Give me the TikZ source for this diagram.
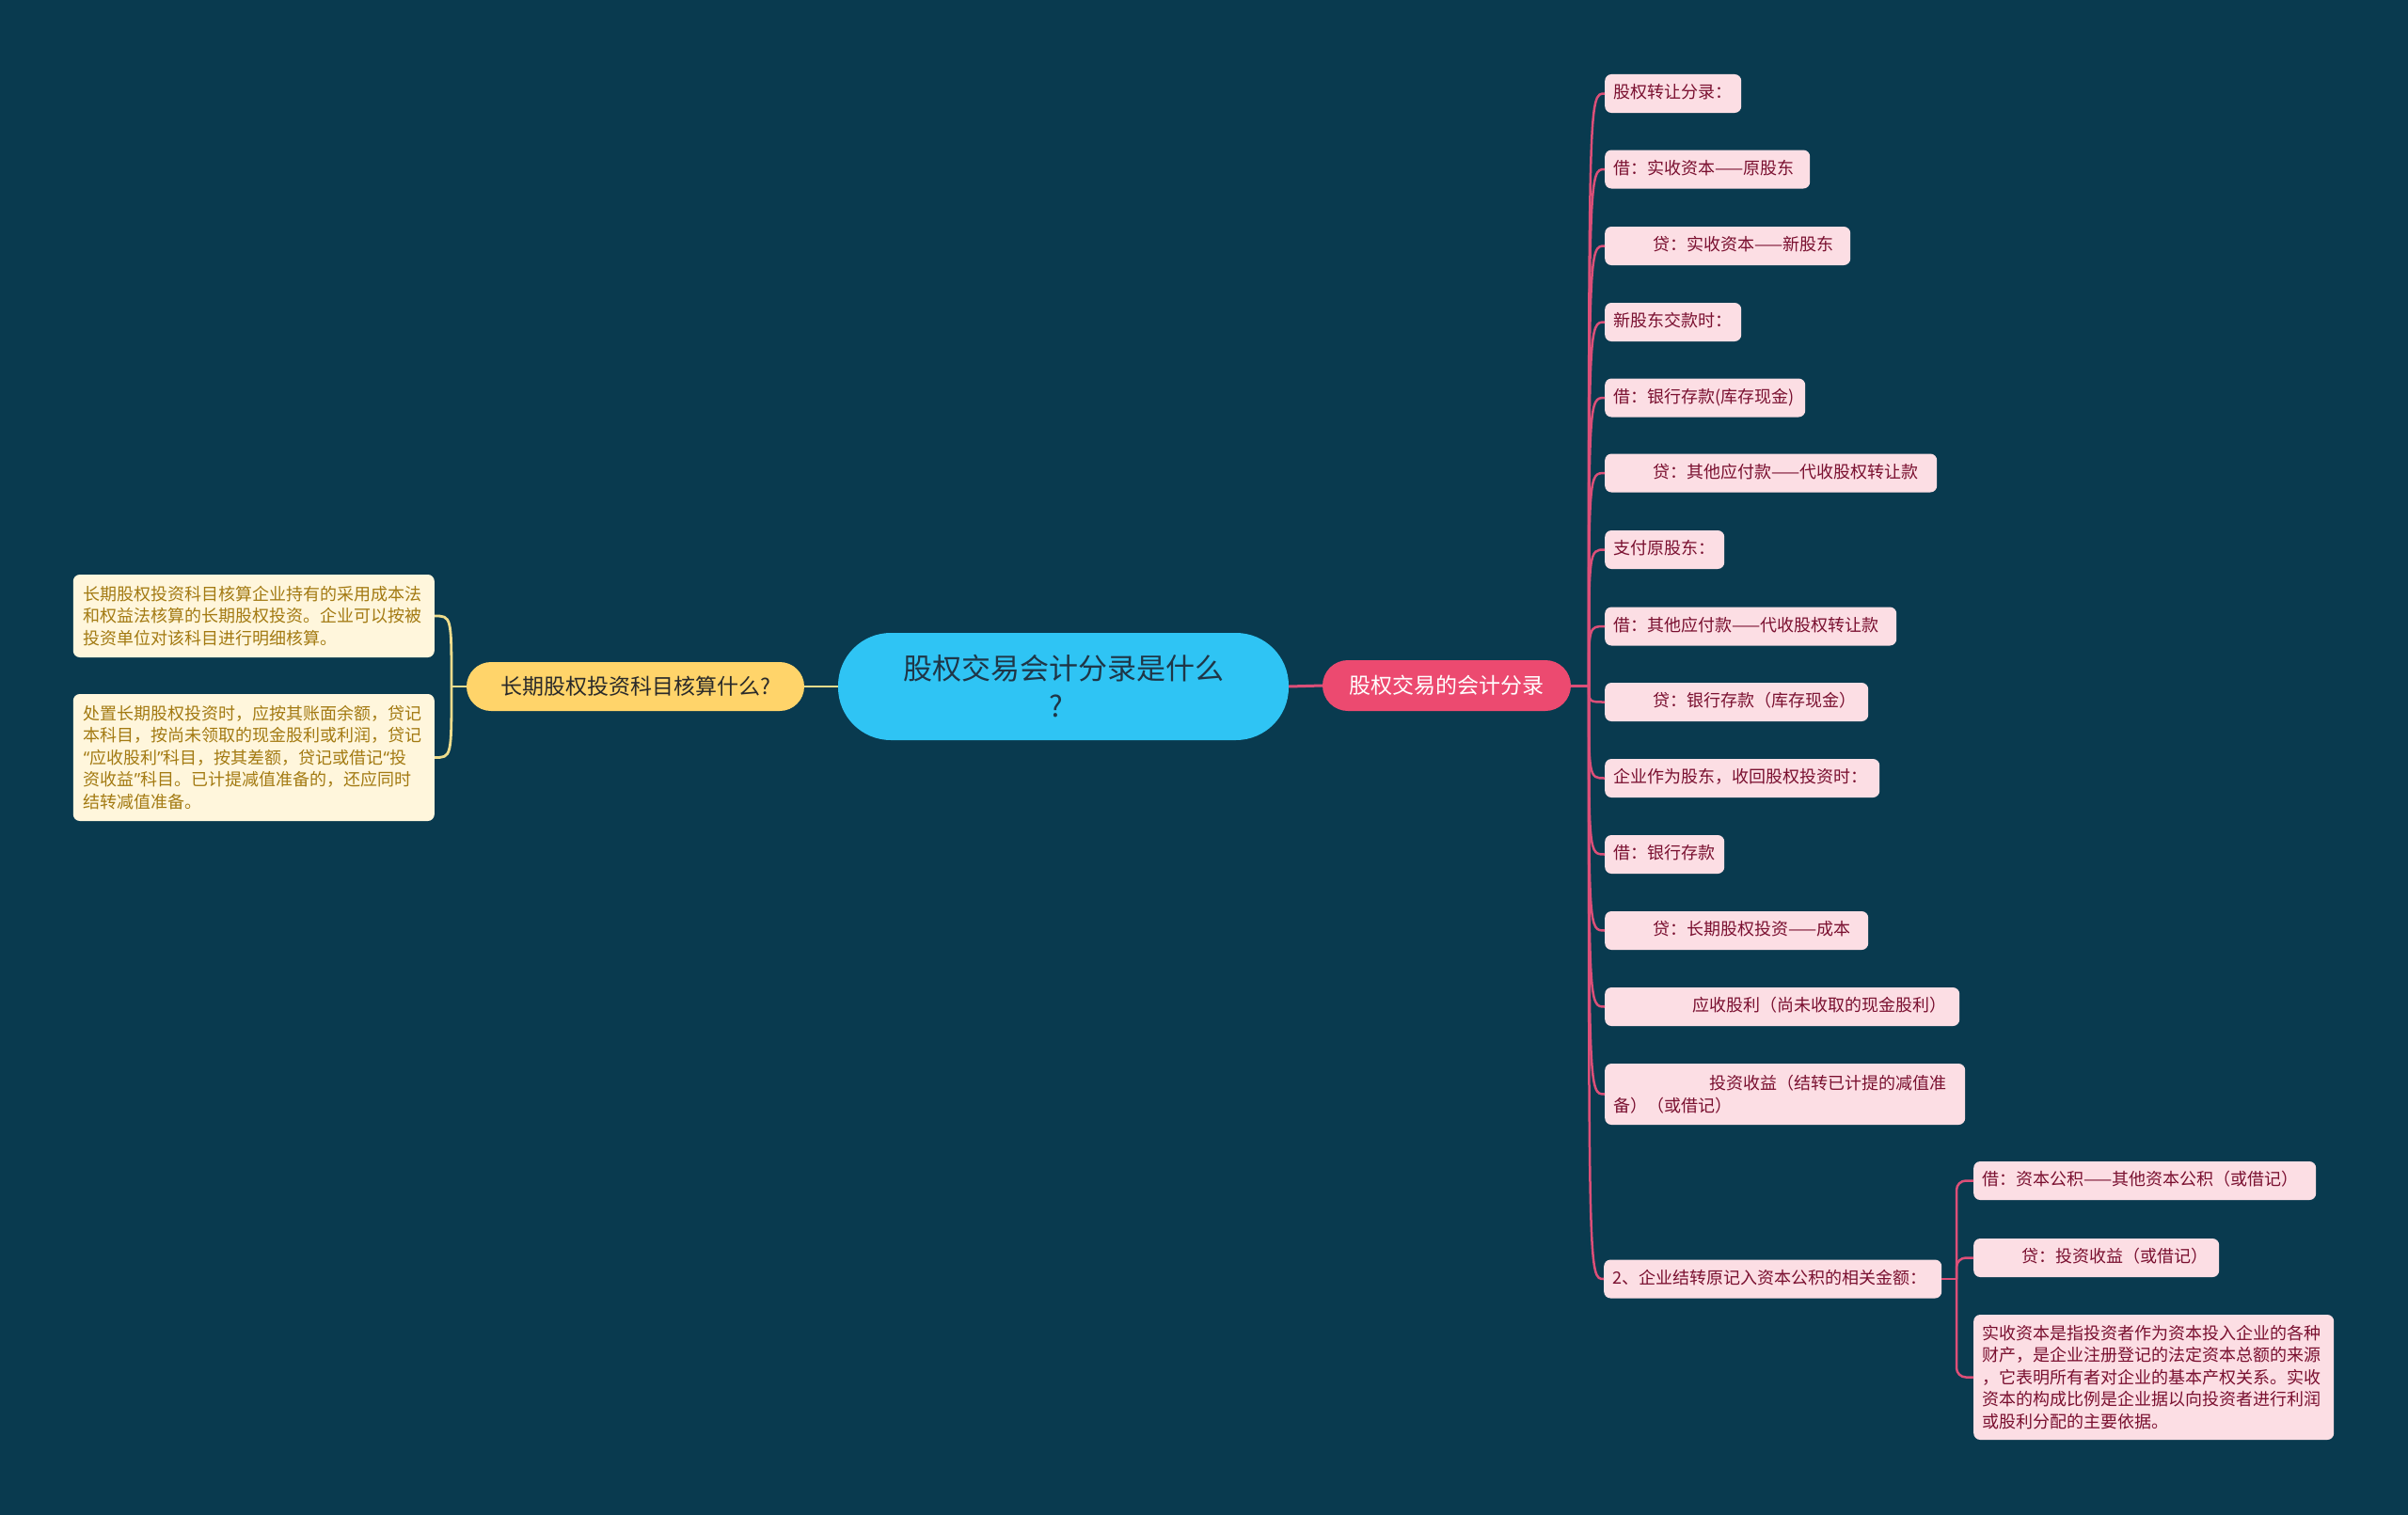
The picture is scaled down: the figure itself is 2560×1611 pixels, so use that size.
\documentclass[tikz,border=0pt]{standalone}
\usepackage{fontspec}
\setmainfont{Noto Sans CJK SC}
\newfontfamily\qfont{Noto Sans}
\newcommand\myqopen{{\qfont “}}
\newcommand\myqclose{{\qfont ”}}
\definecolor{bgc}{HTML}{093A4F}
\definecolor{rootc}{HTML}{2FC4F4}
\definecolor{roottxt}{HTML}{1F3647}
\definecolor{yfill}{HTML}{FFD46A}
\definecolor{ytxt}{HTML}{2A2A2A}
\definecolor{yline}{HTML}{EEDC8C}
\definecolor{lfill}{HTML}{FFF6DC}
\definecolor{ltxt}{HTML}{A37A12}
\definecolor{pbrfill}{HTML}{EC4A70}
\definecolor{pline}{HTML}{DC4F78}
\definecolor{pfill}{HTML}{FCDEE4}
\definecolor{ptxt}{HTML}{7A1030}
\begin{document}
\begin{tikzpicture}[x=1pt,y=-1pt,
  rootnode/.style={fill=rootc, rounded corners=56pt, minimum width=479pt, minimum height=114pt,
    inner sep=0pt, align=center, text=roottxt, font=\fontsize{31}{40}\selectfont},
  ybranch/.style={fill=yfill, rounded corners=26pt, minimum width=359pt, minimum height=52pt,
    inner sep=0pt, text=ytxt, font=\fontsize{23}{28}\selectfont},
  pbranch/.style={fill=pbrfill, rounded corners=27pt, minimum width=264pt, minimum height=54pt,
    inner sep=0pt, text=white, font=\fontsize{23}{28}\selectfont},
  pleaf/.style={fill=pfill, rounded corners=7pt, anchor=west, inner xsep=9.5pt, inner ysep=0pt,
    minimum height=41pt, align=left, text=ptxt, font=\fontsize{18}{23.5}\selectfont},
  one/.style={text height=14pt, text depth=4pt},
  lleaf/.style={fill=lfill, rounded corners=7pt, anchor=east, inner xsep=11pt, inner ysep=0pt,
    text width=362pt, align=left, text=ltxt, font=\fontsize{18}{23.5}\selectfont},
  pconn/.style={draw=pline, line width=2.5pt},
  yconn/.style={draw=yline, line width=2.8pt}
]
\fill[bgc] (0,0) rectangle (2560,1611);
\useasboundingbox (0,0) rectangle (2560,1611);

% central and branches
\node[rootnode] (root) at (1130.5,730) {股权交易会计分录是什么\\\hspace*{-16pt}?};
\node[ybranch] (yb) at (675.5,730) {长期股权投资科目核算什么?};
\node[pbranch] (pb) at (1538,729) {股权交易的会计分录};

% left leaves
\node[lleaf, minimum height=88pt] (A1) at (462,655) {长期股权投资科目核算企业持有的采用成本法\\和权益法核算的长期股权投资。企业可以按被\\投资单位对该科目进行明细核算。};
\node[lleaf, minimum height=135pt] (A2) at (462,805.5) {处置长期股权投资时，应按其账面余额，贷记\\本科目，按尚未领取的现金股利或利润，贷记\\\myqopen 应收股利\myqclose 科目，按其差额，贷记或借记\myqopen 投\\资收益\myqclose 科目。已计提减值准备的，还应同时\\结转减值准备。};

% right leaves
\node[pleaf, one, text width=126pt] (L1) at (1706,99.5) {股权转让分录：};
\node[pleaf, one, text width=199pt] (L2) at (1706,180) {借：实收资本——原股东};
\node[pleaf, one, text width=242pt] (L3) at (1706,261.5) {\hspace*{42pt}贷：实收资本——新股东};
\node[pleaf, one, text width=126pt] (L4) at (1706,342.5) {新股东交款时：};
\node[pleaf, one, text width=194pt] (L5) at (1706,423) {借：银行存款(库存现金)};
\node[pleaf, one, text width=334pt] (L6) at (1706,503) {\hspace*{42pt}贷：其他应付款——代收股权转让款};
\node[pleaf, one, text width=108pt] (L7) at (1706,584.5) {支付原股东：};
\node[pleaf, one, text width=291pt] (L8) at (1706,666) {借：其他应付款——代收股权转让款};
\node[pleaf, one, text width=261pt] (L9) at (1706,746.5) {\hspace*{42pt}贷：银行存款（库存现金）};
\node[pleaf, one, text width=273pt] (L10) at (1706,827.5) {企业作为股东，收回股权投资时：};
\node[pleaf, one, text width=108pt] (L11) at (1706,908.5) {借：银行存款};
\node[pleaf, one, text width=261pt] (L12) at (1706,989.5) {\hspace*{42pt}贷：长期股权投资——成本};
\node[pleaf, one, text width=358pt] (L13) at (1706,1070.5) {\hspace*{84pt}应收股利（尚未收取的现金股利）};
\node[pleaf, text width=364pt, minimum height=65pt] (L14) at (1706,1163.5) {\hspace*{102pt}投资收益（结转已计提的减值准\\备）（或借记）};
\node[pleaf, one, text width=340pt] (L15) at (1705,1360) {2、企业结转原记入资本公积的相关金额：};

% sub leaves
\node[pleaf, one, text width=345pt] (S1) at (2098,1255.5) {借：资本公积——其他资本公积（或借记）};
\node[pleaf, one, text width=242pt] (S2) at (2098,1337.5) {\hspace*{42pt}贷：投资收益（或借记）};
\node[pleaf, text width=365pt, minimum height=133pt, inner xsep=9pt] (S3) at (2098,1464.5) {实收资本是指投资者作为资本投入企业的各种\\财产，是企业注册登记的法定资本总额的来源\\，它表明所有者对企业的基本产权关系。实收\\资本的构成比例是企业据以向投资者进行利润\\或股利分配的主要依据。};

% connectors: root to branches
\draw[yconn] (root.west) -- (yb.east);
\draw[pconn, line width=3pt] (root.east) -- (pb.west);

% left
\coordinate (j0) at (480,730);
\draw[yconn] (yb.west) -- (j0);
\foreach \n in {A1,A2}{
  \draw[yconn] (j0) .. controls (j0 |- \n.east) and (j0 |- \n.east) .. (\n.east);
}

% right trunk
\coordinate (j1) at (1689,729);
\draw[pconn, line width=3pt] (pb.east) -- (j1);
\foreach \n in {L1,L2,L3,L4,L5,L6,L7,L8,L9,L10,L11,L12,L13,L14,L15}{
  \draw[pconn] (j1) .. controls (j1 |- \n.west) and (j1 |- \n.west) .. (\n.west);
}

% sub connectors
\coordinate (j2) at (2080,1360);
\draw[pconn] (L15.east) -- (j2);
\foreach \n in {S1,S2,S3}{
  \draw[pconn, rounded corners=10pt] (j2) |- (\n.west);
}
\end{tikzpicture}
\end{document}
